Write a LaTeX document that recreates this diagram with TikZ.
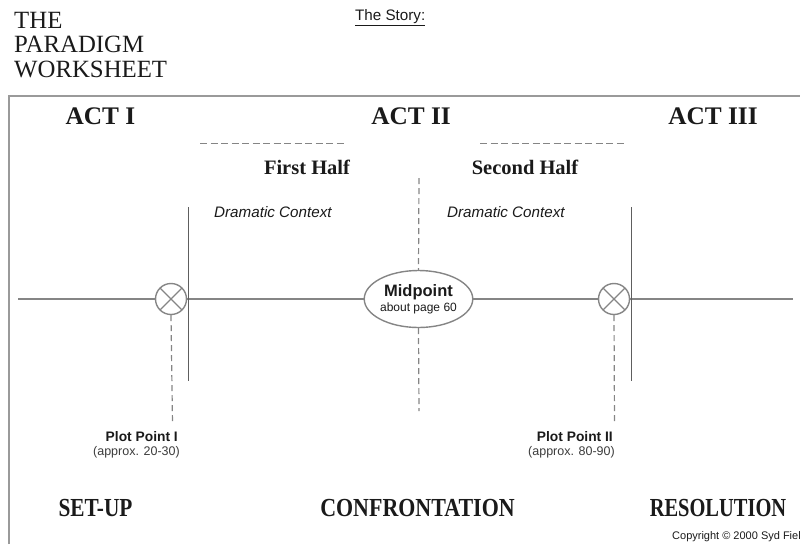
\documentclass[tikz,border=0pt]{standalone}
\usepackage{fontspec}
\setmainfont{Liberation Serif}
\setsansfont{Liberation Sans}
\usetikzlibrary{shapes.geometric}
\definecolor{ln}{HTML}{858585}
\definecolor{vl}{HTML}{5E5E5E}
\definecolor{fr}{HTML}{9A9A9A}
\definecolor{tx}{HTML}{1A1A1A}
\tikzset{
  lne/.style={draw=ln, line width=1.4pt},
  vln/.style={draw=vl, line width=1.3pt},
  dsh/.style={draw=ln, line width=1.2pt, dash pattern=on 6pt off 4pt},
  pp/.style={circle, draw=ln, line width=1.4pt, minimum size=31pt, inner sep=0pt,
    path picture={\draw[ln, line width=1.2pt] (path picture bounding box.north west) -- (path picture bounding box.south east)
      (path picture bounding box.north east) -- (path picture bounding box.south west);}},
  act/.style={font=\fontsize{25.3}{27}\selectfont\bfseries, text=tx, inner sep=0pt},
  half/.style={font=\fontsize{20.5}{22}\selectfont\bfseries, text=tx, inner sep=0pt},
  ctx/.style={font=\sffamily\itshape\fontsize{15.2}{17}\selectfont, text=tx, inner sep=0pt},
  big/.style={font=\fontsize{26}{28}\selectfont\bfseries, text=tx, inner sep=0pt, xscale=0.82},
  pplab/.style={anchor=east, inner sep=0pt, font=\sffamily\bfseries\fontsize{13.8}{15}\selectfont, text=tx},
  ppsub/.style={anchor=east, inner sep=0pt, font=\sffamily\fontsize{12.5}{14}\selectfont, text=tx!85},
}
\begin{document}
\begin{tikzpicture}[x=1pt,y=-1pt]
\useasboundingbox (0,0) rectangle (800,544);
\clip (0,0) rectangle (800,544);
% frame
\draw[fr, line width=1.3pt] (9,544) -- (9,96) -- (800,96);
% title
\node[anchor=west, align=left, inner sep=0pt, font=\fontsize{24.8}{24.5}\selectfont, text=tx] (title) at (14,45) {THE\\PARADIGM\\WORKSHEET};
\node[anchor=west, inner sep=0pt, font=\sffamily\fontsize{15.2}{17}\selectfont, text=tx] (story) at (355,18) {\underline{The Story:}};
% acts
\node[act] (a1) at (100.5,116) {ACT I};
\node[act] (a2) at (411,116) {ACT II};
\node[act] (a3) at (713,116) {ACT III};
% dashed lines under ACT II
\coordinate (d1a) at (200,143); \coordinate (d1b) at (346,143);
\coordinate (d2a) at (480,143); \coordinate (d2b) at (626,143);
\draw[dsh, line width=1pt, dash pattern=on 7pt off 3.5pt] (d1a) -- (d1b);
\draw[dsh, line width=1pt, dash pattern=on 7pt off 3.5pt] (d2a) -- (d2b);
\node[half] (h1) at (307,167) {First Half};
\node[half] (h2) at (525,167) {Second Half};
\node[ctx, anchor=west] (c1) at (214,212) {Dramatic Context};
\node[ctx, anchor=west] (c2) at (447,212) {Dramatic Context};
% main line elements
\node[pp] (p1) at (171,299) {};
\node[pp] (p2) at (614,299) {};
\node[ellipse, draw=ln, line width=1.4pt, minimum width=107pt, minimum height=57pt, inner sep=0pt, align=center] (mid) at (418.5,299)
  {\sffamily\bfseries\fontsize{16.5}{18}\selectfont\textcolor{tx}{Midpoint}\\[1.5pt]\sffamily\fontsize{12}{13}\selectfont\textcolor{tx}{about page 60}};
\coordinate (l0) at (18,299);
\coordinate (l9) at (793,299);
\draw[lne] (l0) -- (p1.west);
\draw[lne] (p1.east) -- (mid.west);
\draw[lne] (mid.east) -- (p2.west);
\draw[lne] (p2.east) -- (l9);
% vertical solid lines
\coordinate (v1a) at (188.5,207); \coordinate (v1b) at (188.5,381);
\coordinate (v2a) at (631.5,207); \coordinate (v2b) at (631.5,381);
\draw[vln] (v1a) -- (v1b);
\draw[vln] (v2a) -- (v2b);
% center dashed
\coordinate (m0) at (419,178);
\coordinate (m9) at (419,411);
\draw[dsh] (m0) -- (mid.north);
\draw[dsh] (mid.south) -- (m9);
% plot point dashed
\coordinate (q1) at (172.5,424);
\coordinate (q2) at (614.5,424);
\draw[dsh] (p1.south) -- (q1);
\draw[dsh] (p2.south) -- (q2);
% plot point labels
\node[pplab] (pl1) at (178,437) {Plot Point I};
\node[ppsub] (pa1) at (180,452) {(approx. 20-30)};
\node[pplab] (pl2) at (613,437) {Plot Point II};
\node[ppsub] (pa2) at (615,452) {(approx. 80-90)};
% bottom labels
\node[big] (s1) at (95.5,508) {SET-UP};
\node[big, xscale=1.03] (s2) at (417.5,508) {CONFRONTATION};
\node[big, xscale=0.96] (s3) at (718,508) {RESOLUTION};
\node[anchor=west, inner sep=0pt, font=\sffamily\fontsize{11}{12}\selectfont, text=tx] (copy) at (672,537) {Copyright © 2000 Syd Field};
\end{tikzpicture}
\end{document}
